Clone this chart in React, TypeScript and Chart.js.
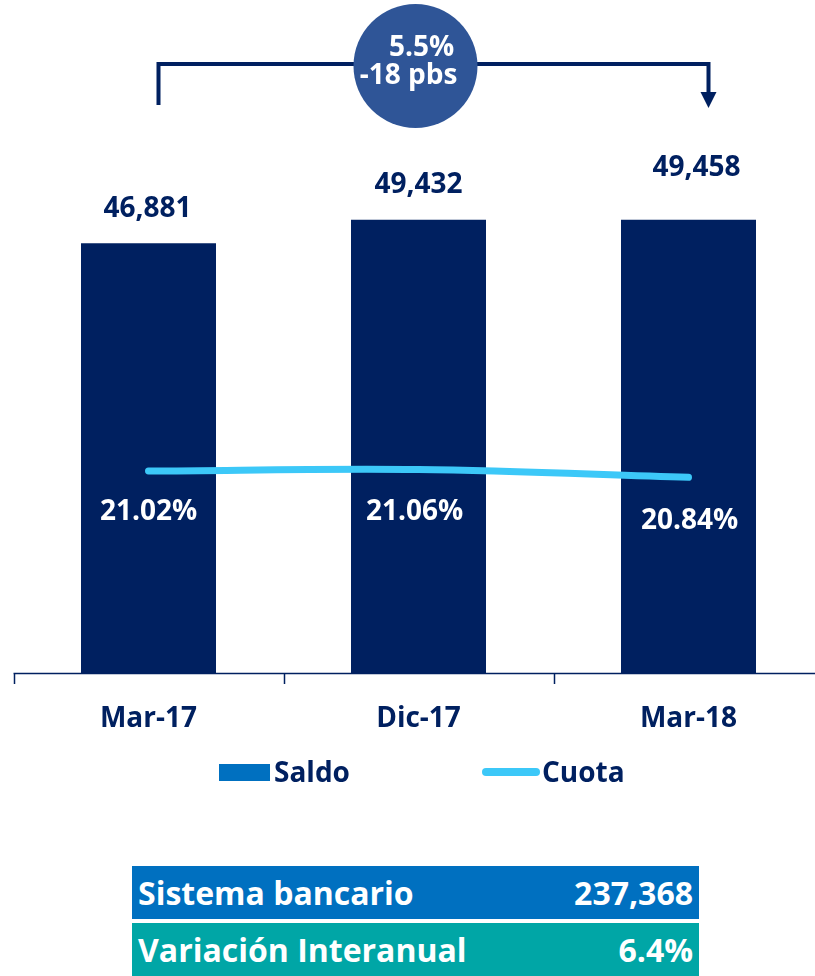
import React, { useEffect, useRef } from "react";
import { Chart, registerables } from "chart.js";

Chart.register(...registerables);

const categories = ["Mar-17", "Dic-17", "Mar-18"];
const saldo = [46881, 49432, 49458];
const cuota = [21.02, 21.06, 20.84];
const seriesNames = ["Saldo", "Cuota"];
const variacionSaldo = "5.5%";
const variacionCuota = "-18 pbs";
const tableLabels = ["Sistema bancario", "Variación Interanual"];
const tableValues = ["237,368", "6.4%"];

const NAVY = "#002060";
const LIGHT = "#3CC8F8";
const FONT = "'Open Sans', sans-serif";

// label placement tweaks (style only)
const barLabelDy = [-26, -27, -44];
const barLabelDx = [-1, 0, 8];
const lineLabelDy = [49, 50, 52];
const lineLabelDx = [0, -4, 1];

const overlayPlugin = {
  id: "overlay",
  afterDatasetsDraw(chart: any) {
    const ctx = chart.ctx;
    const xs = chart.scales.x;
    const ys = chart.scales.y;
    const y2 = chart.scales.y2;
    const area = chart.chartArea;
    ctx.save();

    // axis line + ticks
    ctx.strokeStyle = NAVY;
    ctx.lineWidth = 1.5;
    ctx.beginPath();
    ctx.moveTo(area.left, area.bottom + 0.5);
    ctx.lineTo(area.right, area.bottom + 0.5);
    const step = xs.getPixelForValue(1) - xs.getPixelForValue(0);
    for (let i = 0; i <= categories.length; i++) {
      const tx = Math.round(xs.getPixelForValue(0) - step / 2 + i * step) + 0.5;
      ctx.moveTo(tx, area.bottom);
      ctx.lineTo(tx, area.bottom + 11);
    }
    ctx.stroke();

    // category labels
    ctx.fillStyle = NAVY;
    ctx.font = `bold 28px ${FONT}`;
    ctx.textAlign = "center";
    ctx.textBaseline = "alphabetic";
    categories.forEach((c, i) => {
      ctx.fillText(c, xs.getPixelForValue(i), area.bottom + 54);
    });

    // bar value labels
    saldo.forEach((v, i) => {
      const px = xs.getPixelForValue(i) + barLabelDx[i];
      const py = ys.getPixelForValue(v) + barLabelDy[i];
      ctx.fillText(v.toLocaleString("en-US"), px, py);
    });

    // line value labels
    ctx.fillStyle = "#ffffff";
    cuota.forEach((v, i) => {
      const px = xs.getPixelForValue(i) + lineLabelDx[i];
      const py = y2.getPixelForValue(v) + lineLabelDy[i];
      ctx.fillText(v.toFixed(2) + "%", px, py);
    });

    // legend
    const legY = area.bottom + 109;
    ctx.fillStyle = "#0070C0";
    ctx.fillRect(219, legY - 18, 51, 17);
    ctx.fillStyle = NAVY;
    ctx.textAlign = "left";
    ctx.fillText(seriesNames[0], 274, legY);
    ctx.strokeStyle = LIGHT;
    ctx.lineWidth = 8;
    ctx.lineCap = "round";
    ctx.beginPath();
    ctx.moveTo(486, legY - 10);
    ctx.lineTo(536, legY - 10);
    ctx.stroke();
    ctx.fillText(seriesNames[1], 542, legY);

    // bracket annotation
    const x0 = xs.getPixelForValue(0) + 10;
    const x2 = xs.getPixelForValue(2) + 20;
    ctx.lineCap = "butt";
    ctx.strokeStyle = NAVY;
    ctx.lineWidth = 4;
    ctx.beginPath();
    ctx.moveTo(x0, 105);
    ctx.lineTo(x0, 64);
    ctx.lineTo(x2, 64);
    ctx.lineTo(x2, 94);
    ctx.stroke();
    ctx.fillStyle = NAVY;
    ctx.beginPath();
    ctx.moveTo(x2 - 8, 92);
    ctx.lineTo(x2 + 8, 92);
    ctx.lineTo(x2, 108);
    ctx.closePath();
    ctx.fill();

    const cx = xs.getPixelForValue(1) - 3;
    ctx.fillStyle = "#2F5597";
    ctx.beginPath();
    ctx.arc(cx, 66, 62, 0, Math.PI * 2);
    ctx.fill();
    ctx.fillStyle = "#ffffff";
    ctx.textAlign = "center";
    ctx.fillText(variacionSaldo, cx + 6, 56);
    ctx.fillText(variacionCuota, cx - 7, 84);

    ctx.restore();
  },
};

function ChartCanvas() {
  const ref = useRef<HTMLCanvasElement>(null);
  useEffect(() => {
    if (!ref.current) return;
    const chart = new Chart(ref.current, {
      type: "bar",
      data: {
        labels: categories,
        datasets: [
          {
            type: "line",
            label: seriesNames[1],
            data: cuota,
            yAxisID: "y2",
            borderColor: LIGHT,
            borderWidth: 7,
            borderCapStyle: "round",
            tension: 0.35,
            pointRadius: 0,
            fill: false,
            order: 0,
          } as any,
          {
            type: "bar",
            label: seriesNames[0],
            data: saldo,
            yAxisID: "y",
            backgroundColor: NAVY,
            barPercentage: 0.5,
            categoryPercentage: 1,
            order: 1,
          },
        ],
      },
      options: {
        animation: false,
        responsive: false,
        devicePixelRatio: 1,
        layout: { padding: { left: 13.5, right: 6.5, top: 123, bottom: 127 } },
        plugins: { legend: { display: false }, tooltip: { enabled: false } },
        scales: {
          x: { display: false },
          y: { display: false, min: 0, max: 60000 },
          y2: { display: false, min: 15.25, max: 30.96 },
        },
      },
      plugins: [overlayPlugin],
    });
    return () => chart.destroy();
  }, []);
  return (
    <canvas
      ref={ref}
      width={830}
      height={800}
      style={{ position: "absolute", left: 0, top: 0, width: 830, height: 800 }}
    />
  );
}

const rowStyle = (top: number, bg: string): React.CSSProperties => ({
  position: "absolute",
  left: 132,
  top,
  width: 567,
  height: 53,
  background: bg,
  color: "#ffffff",
  fontFamily: FONT,
  fontWeight: 700,
  fontSize: 32,
  lineHeight: 1,
  display: "flex",
  alignItems: "center",
  justifyContent: "space-between",
  padding: "0 6px",
  boxSizing: "border-box",
});

export default function App() {
  return (
    <div
      style={{
        position: "absolute",
        left: 0,
        top: 0,
        width: 815,
        height: 976,
        overflow: "hidden",
        background: "#ffffff",
      }}
    >
      <ChartCanvas />
      <div style={rowStyle(866, "#0070C0")}>
        <span>{tableLabels[0]}</span>
        <span>{tableValues[0]}</span>
      </div>
      <div style={rowStyle(923, "#00A6A6")}>
        <span>{tableLabels[1]}</span>
        <span>{tableValues[1]}</span>
      </div>
    </div>
  );
}
